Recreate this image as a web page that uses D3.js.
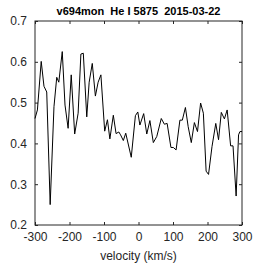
<!DOCTYPE html>
<html lang="en">
<head>
  <meta charset="UTF-8">
  <script src="https://cdn.jsdelivr.net/npm/d3@7"></script>
  <title>v694mon He I 5875</title>
  <style>
    body { margin: 0; background: #fff; }
    text { font-family: Arial, "Liberation Sans", sans-serif; fill: #262626; }
  </style>
</head>
<body>
  <svg width="267" height="267" id="chart"></svg>
  <script>

  // velocity (km/s) and normalised flux
  let velocity = [-300, -293, -282, -274, -266, -256, -245, -237, -231, -221, -213, -204, -195, -185, -175, -167, -160, -150, -143, -134, -125, -117, -109, -98, -90, -83, -73, -65, -57, -52, -44, -37, -21, -9, -2, 4, 15, 24, 33, 43, 53, 66, 75, 83, 94, 101, 109, 120, 127, 136, 144, 153, 162, 171, 180, 188, 196, 203, 213, 224, 232, 240, 249, 257, 267, 274, 283, 290, 294, 300];
  let flux = [0.461, 0.482, 0.601, 0.540, 0.526, 0.250, 0.490, 0.562, 0.550, 0.625, 0.494, 0.437, 0.568, 0.423, 0.474, 0.619, 0.621, 0.465, 0.550, 0.596, 0.516, 0.550, 0.568, 0.430, 0.458, 0.411, 0.469, 0.424, 0.428, 0.421, 0.407, 0.425, 0.366, 0.468, 0.477, 0.445, 0.473, 0.423, 0.456, 0.402, 0.417, 0.461, 0.447, 0.449, 0.390, 0.390, 0.384, 0.457, 0.457, 0.488, 0.441, 0.402, 0.451, 0.429, 0.499, 0.474, 0.332, 0.324, 0.392, 0.449, 0.409, 0.476, 0.460, 0.482, 0.394, 0.394, 0.271, 0.421, 0.429, 0.429];
  let xTicks = [-300, -200, -100, 0, 100, 200, 300];
  let yTicks = [0.2, 0.3, 0.4, 0.5, 0.6, 0.7];

  let title = "v694mon  He I 5875  2015-03-22";
  let xLabel = "velocity (km/s)";

  let svg = d3.select("#chart");
  let mLeft = 35, mRight = 242, mTop = 21, mBottom = 225;

  /* SCALES */
  let scaleX = d3.scaleLinear().domain([-300, 300]).range([mLeft, mRight]);
  let scaleY = d3.scaleLinear().domain([0.2, 0.7]).range([mBottom, mTop]);

  /* AXES - ticks point inward like matlab */
  let styleAxis = g => {
    g.select(".domain").remove();
    g.selectAll(".tick line").attr("stroke", "#262626");
    g.selectAll(".tick text").attr("font-size", 12).attr("fill", "#262626").attr("font-family", "Arial, 'Liberation Sans', sans-serif");
  };

  svg.append("g").attr("transform", `translate(0,${mBottom})`)
    .call(d3.axisBottom(scaleX).tickValues(xTicks).tickFormat(d3.format("d")).tickSizeInner(-3).tickPadding(7))
    .call(styleAxis);
  svg.append("g").attr("transform", `translate(0,${mTop})`)
    .call(d3.axisTop(scaleX).tickValues(xTicks).tickFormat("").tickSizeInner(-3))
    .call(styleAxis);
  svg.append("g").attr("transform", `translate(${mLeft},0)`)
    .call(d3.axisLeft(scaleY).tickValues(yTicks).tickFormat(d3.format(".1f")).tickSizeInner(-3).tickPadding(8))
    .call(styleAxis);
  svg.append("g").attr("transform", `translate(${mRight},0)`)
    .call(d3.axisRight(scaleY).tickValues(yTicks).tickFormat("").tickSizeInner(-3))
    .call(styleAxis);

  // plain hyphen for negative numbers, like the original
  svg.selectAll(".tick text").text(function() { return d3.select(this).text().replace("\u2212", "-"); });

  // box
  svg.append("rect")
    .attr("x", mLeft).attr("y", mTop)
    .attr("width", mRight - mLeft).attr("height", mBottom - mTop)
    .attr("fill", "none").attr("stroke", "#262626").attr("stroke-width", 1);

  /* LINE */
  let points = velocity.map((v, i) => [v, flux[i]]);
  let line = d3.line().x(d => scaleX(d[0])).y(d => scaleY(d[1]));
  svg.append("path")
    .datum(points)
    .attr("d", line)
    .attr("fill", "none")
    .attr("stroke", "#000")
    .attr("stroke-width", 1);

  /* TEXT */
  svg.append("text")
    .text(title)
    .attr("x", (mLeft + mRight) / 2)
    .attr("y", 15)
    .attr("text-anchor", "middle")
    .attr("font-size", 11)
    .attr("font-weight", "bold")
    .style("white-space", "pre")
    .style("fill", "#000");

  svg.append("text")
    .text(xLabel)
    .attr("x", (mLeft + mRight) / 2)
    .attr("y", 260)
    .attr("text-anchor", "middle")
    .attr("font-size", 12);

  </script>
</body>
</html>
